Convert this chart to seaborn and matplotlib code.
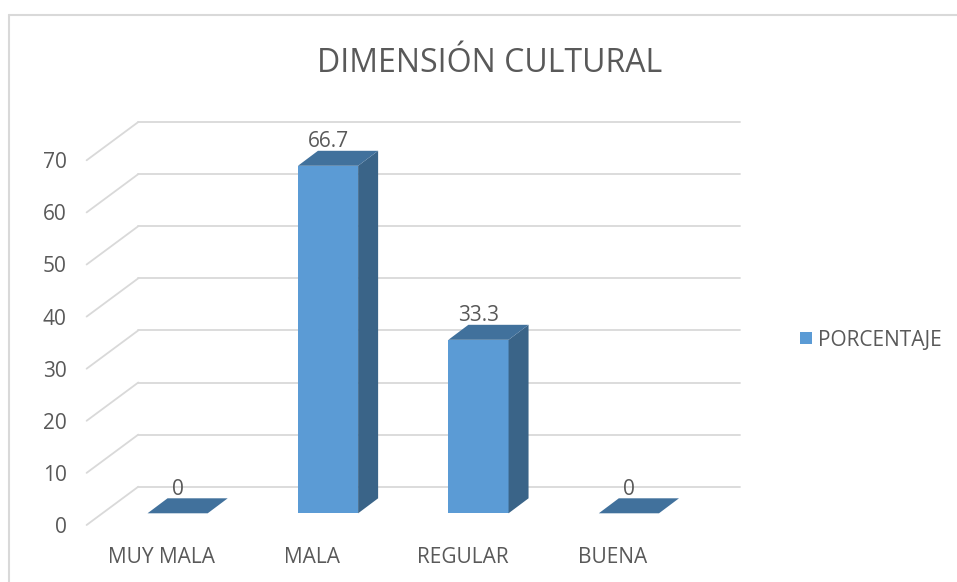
import matplotlib
matplotlib.use("Agg")
import matplotlib.pyplot as plt
import seaborn as sns
import pandas as pd
from matplotlib.patches import Polygon, Rectangle
from matplotlib.lines import Line2D
from matplotlib.transforms import IdentityTransform

# ---- data ----
categories = ["MUY MALA", "MALA", "REGULAR", "BUENA"]
porcentaje = [0, 66.7, 33.3, 0]
value_labels = ["0", "66.7", "33.3", "0"]
y_ticks = [0, 10, 20, 30, 40, 50, 60, 70]
title = "DIMENSIÓN CULTURAL"
series_name = "PORCENTAJE"

# ---- styling ----
W, H, DPI = 957, 582, 100
FRONT_COLOR = "#5B9BD5"
SIDE_COLOR = "#3A6488"
TOP_COLOR = "#41719C"
GRID_COLOR = "#D9D9D9"
TEXT_COLOR = "#595959"
FONT = ["Open Sans", "DejaVu Sans"]
LABEL_SIZE = 15

# pixel offsets of the depth planes, relative to the bars' front plane
FRONT = (-15.8, -11.7)      # front edge of the floor
DEPTH = (20.0, 15.0)        # depth of one bar
BACK = (35.9, 26.6)         # back wall

sns.set_theme(style="white")
plt.rcParams["font.family"] = FONT

fig = plt.figure(figsize=(W / DPI, H / DPI), dpi=DPI)
fig.patch.set_facecolor("white")

# axes spanning the plane of the bars' front faces
left_px, right_px, base_px = 102.4, 704.1, 513.3
unit_px = 5.21
top_px = base_px - max(y_ticks) * unit_px
ax = fig.add_axes([left_px / W, 1 - base_px / H,
                   (right_px - left_px) / W, (base_px - top_px) / H])

df = pd.DataFrame({"categoria": categories, "porcentaje": porcentaje})
sns.barplot(data=df, x="categoria", y="porcentaje", color=FRONT_COLOR,
            saturation=1, width=0.4, linewidth=0, ax=ax, zorder=3)
ax.set_xlim(-0.5, len(categories) - 0.5)
ax.set_ylim(0, max(y_ticks))
ax.set_axis_off()


def px(x, y, off=(0, 0)):
    p = ax.transData.transform((x, y))
    return (p[0] + off[0], p[1] + off[1])


ident = IdentityTransform()
x_lo, x_hi = -0.5, len(categories) - 0.5

# back wall gridlines, diagonal side-wall lines and value axis labels
for v in y_ticks:
    a, b = px(x_lo, v, BACK), px(x_hi, v, BACK)
    ax.add_line(Line2D([a[0], b[0]], [a[1], b[1]], transform=ident,
                       color=GRID_COLOR, lw=1.3, zorder=1, clip_on=False))
    f = px(x_lo, v, FRONT)
    ax.add_line(Line2D([f[0], a[0]], [f[1], a[1]], transform=ident,
                       color=GRID_COLOR, lw=1.3, zorder=1, clip_on=False))
    ax.text(f[0] - 20, f[1] - 8, str(v), transform=ident, ha="right",
            va="baseline", fontsize=LABEL_SIZE, color=TEXT_COLOR,
            clip_on=False)

# side and top faces of each bar, value labels and category labels
half = 0.2
for i, v in enumerate(porcentaje):
    x0, x1 = i - half, i + half
    if v > 0:
        side = [px(x1, 0), px(x1, v), px(x1, v, DEPTH), px(x1, 0, DEPTH)]
        ax.add_patch(Polygon(side, closed=True, transform=ident,
                             facecolor=SIDE_COLOR, edgecolor="none",
                             zorder=3, clip_on=False))
    top = [px(x0, v), px(x1, v), px(x1, v, DEPTH), px(x0, v, DEPTH)]
    ax.add_patch(Polygon(top, closed=True, transform=ident,
                         facecolor=TOP_COLOR, edgecolor="none",
                         zorder=3, clip_on=False))
    lp = px(i, v, (0, DEPTH[1] + 3.5))
    ax.text(lp[0], lp[1], value_labels[i], transform=ident, ha="center",
            va="baseline", fontsize=LABEL_SIZE, color=TEXT_COLOR,
            clip_on=False)
    cp = px(i, 0, (FRONT[0], FRONT[1] - 38.3))
    ax.text(cp[0], cp[1], categories[i], transform=ident, ha="center",
            va="baseline", fontsize=LABEL_SIZE, color=TEXT_COLOR,
            clip_on=False)

# title
fig.text(490 / W, 1 - 72.5 / H, title, ha="center", va="baseline",
         fontsize=23, color=TEXT_COLOR)

# legend
fig.patches.append(Rectangle((799.5 / W, 1 - 343.5 / H), 12 / W, 12 / H,
                             transform=fig.transFigure, facecolor=FRONT_COLOR,
                             edgecolor="none"))
fig.text(818 / W, 1 - 345.5 / H, series_name, ha="left", va="baseline",
         fontsize=LABEL_SIZE, color=TEXT_COLOR)

# chart frame
fig.add_artist(Line2D([9 / W, 1], [1 - 15 / H, 1 - 15 / H],
                      transform=fig.transFigure, color=GRID_COLOR, lw=1.5))
fig.add_artist(Line2D([9 / W, 9 / W], [0, 1 - 15 / H],
                      transform=fig.transFigure, color=GRID_COLOR, lw=1.5))

fig.savefig("out.png", dpi=DPI, facecolor="white")
